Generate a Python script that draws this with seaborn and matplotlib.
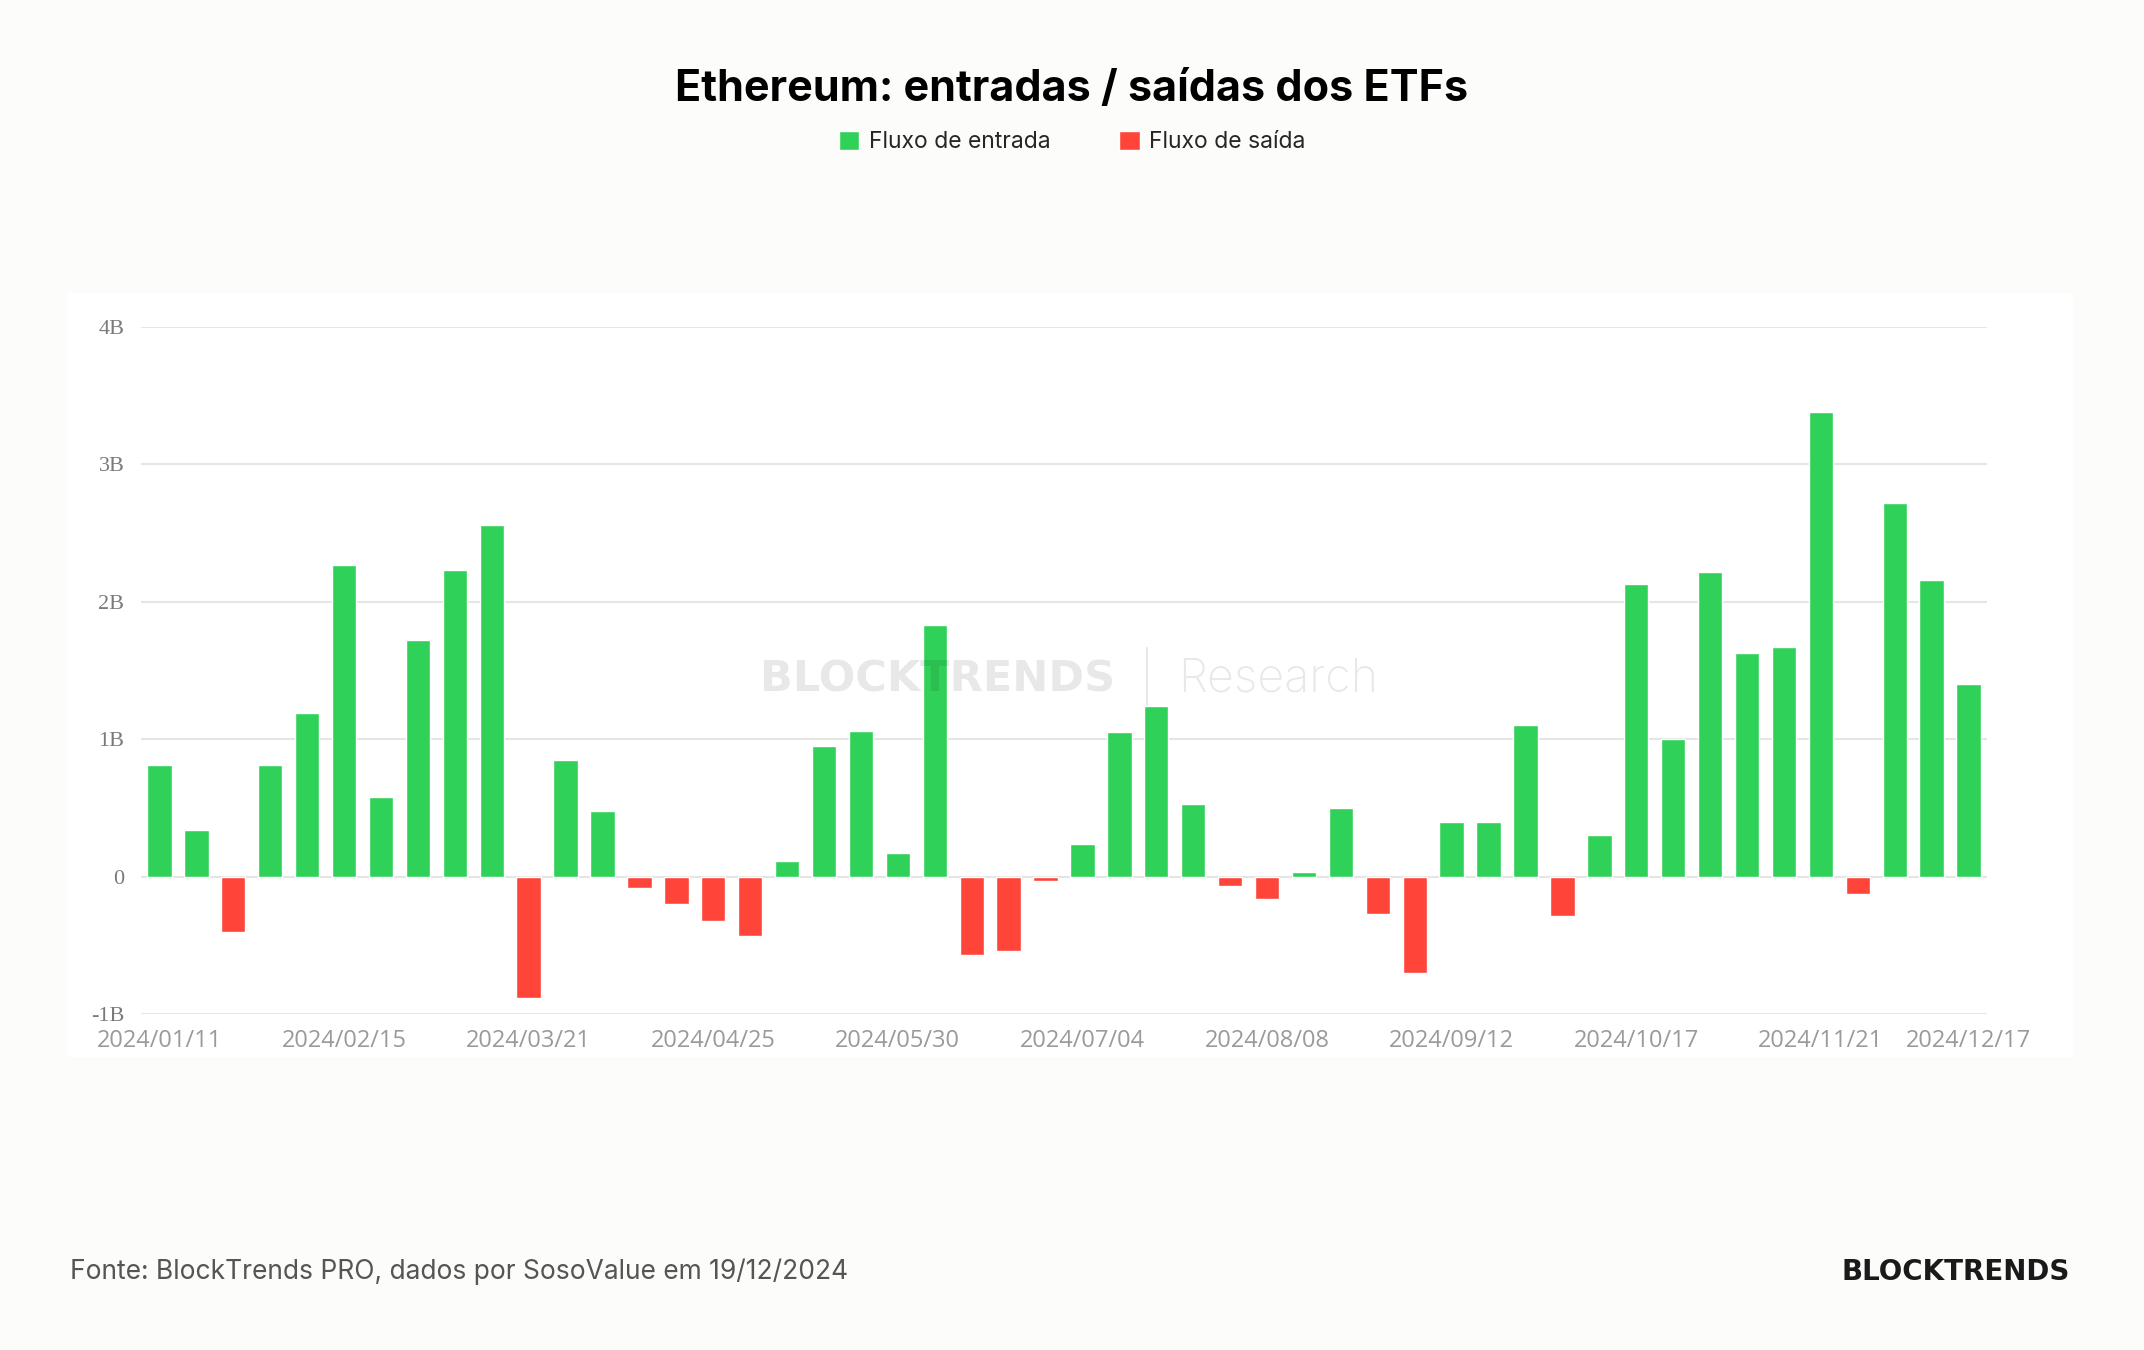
import matplotlib.pyplot as plt
import pandas as pd
import seaborn as sns
from matplotlib.lines import Line2D
from matplotlib.patches import Patch, Rectangle

# fluxo semanal dos ETFs de Ethereum (bilhões de USD)
datas = [
    "2024/01/11", "2024/01/18", "2024/01/25", "2024/02/01", "2024/02/08",
    "2024/02/15", "2024/02/22", "2024/02/29", "2024/03/07", "2024/03/14",
    "2024/03/21", "2024/03/28", "2024/04/04", "2024/04/11", "2024/04/18",
    "2024/04/25", "2024/05/02", "2024/05/09", "2024/05/16", "2024/05/23",
    "2024/05/30", "2024/06/06", "2024/06/13", "2024/06/20", "2024/06/27",
    "2024/07/04", "2024/07/11", "2024/07/18", "2024/07/25", "2024/08/01",
    "2024/08/08", "2024/08/15", "2024/08/22", "2024/08/29", "2024/09/05",
    "2024/09/12", "2024/09/19", "2024/09/26", "2024/10/03", "2024/10/10",
    "2024/10/17", "2024/10/24", "2024/10/31", "2024/11/07", "2024/11/14",
    "2024/11/21", "2024/11/28", "2024/12/05", "2024/12/12", "2024/12/17",
]
fluxo = [
    0.81, 0.34, -0.40, 0.81, 1.19, 2.27, 0.58, 1.72, 2.23, 2.56,
    -0.88, 0.85, 0.48, -0.08, -0.20, -0.32, -0.43, 0.11, 0.95, 1.06,
    0.17, 1.83, -0.57, -0.54, -0.03, 0.24, 1.05, 1.24, 0.53, -0.07,
    -0.16, 0.03, 0.50, -0.27, -0.70, 0.40, 0.40, 1.10, -0.29, 0.30,
    2.13, 1.00, 2.22, 1.63, 1.67, 3.38, -0.13, 2.72, 2.16, 1.40,
]
rotulos_x = [
    "2024/01/11", "2024/02/15", "2024/03/21", "2024/04/25", "2024/05/30",
    "2024/07/04", "2024/08/08", "2024/09/12", "2024/10/17", "2024/11/21",
    "2024/12/17",
]
ticks_y = [-1, 0, 1, 2, 3, 4]
rotulos_y = ["-1B", "0", "1B", "2B", "3B", "4B"]

VERDE = "#30D158"
VERMELHO = "#FF453A"

df = pd.DataFrame({"data": datas, "fluxo": fluxo})
df["tipo"] = ["Fluxo de entrada" if v >= 0 else "Fluxo de saída" for v in df["fluxo"]]

sns.set_style("white")
plt.rcParams["font.family"] = ["Inter", "DejaVu Sans"]

W, H = 2144, 1350
fig = plt.figure(figsize=(W / 100, H / 100), dpi=100, facecolor="#FCFCFA")

# painel branco do gráfico
fig.add_artist(
    Rectangle((68 / W, 1 - 1057 / H), (2073 - 68) / W, (1057 - 293) / H,
              transform=fig.transFigure, facecolor="white", edgecolor="none", zorder=-1)
)

ax = fig.add_axes([141 / W, 1 - 1014 / H, (1987 - 141) / W, (1014 - 327) / H])
ax.set_facecolor("none")

sns.barplot(
    data=df,
    x="data",
    y="fluxo",
    hue="tipo",
    palette={"Fluxo de entrada": VERDE, "Fluxo de saída": VERMELHO},
    dodge=False,
    width=0.66,
    legend=False,
    saturation=1,
    ax=ax,
    zorder=2,
)

ax.set_xlim(-0.5, len(datas) - 0.5)
ax.set_ylim(-1, 4)
ax.set_yticks(ticks_y)
ax.set_yticklabels(rotulos_y, family="Liberation Serif", fontsize=16, color="#7a7a7a")
ax.set_xticks([datas.index(d) for d in rotulos_x])
ax.set_xticklabels(rotulos_x, family="Open Sans", fontsize=17, color="#9a9a9a")
ax.tick_params(axis="both", length=0)
ax.tick_params(axis="y", pad=12)
ax.tick_params(axis="x", pad=11)
ax.grid(axis="y", color="#e6e6e6", linewidth=1.5, zorder=0)
ax.set_axisbelow(True)
ax.set_xlabel("")
ax.set_ylabel("")
sns.despine(ax=ax, left=True, bottom=True)

# título e legenda
fig.text(0.5, 1 - 90 / H, "Ethereum: entradas / saídas dos ETFs",
         ha="center", va="center", fontsize=31, fontweight="bold", color="black")
handles = [
    Patch(facecolor=VERDE, label="Fluxo de entrada"),
    Patch(facecolor=VERMELHO, label="Fluxo de saída"),
]
fig.legend(
    handles=handles,
    loc="center",
    bbox_to_anchor=(0.5, 1 - 142 / H),
    ncol=2,
    frameon=False,
    fontsize=16.5,
    handlelength=0.9,
    handleheight=0.9,
    handletextpad=0.4,
    columnspacing=3.0,
)

# marca d'água
fig.text(1115 / W, 1 - 679 / H, "BLOCKTRENDS", ha="right", va="center",
         family="DejaVu Sans", fontsize=31, fontweight="bold", color="black", alpha=0.09)
fig.text(1178 / W, 1 - 679 / H, "Research", ha="left", va="center",
         fontsize=33.5, fontweight="light", color="black", alpha=0.09)
fig.add_artist(Line2D([1147 / W, 1147 / W], [1 - 648 / H, 1 - 705 / H],
                      transform=fig.transFigure, color="black", alpha=0.09, linewidth=1.5))

# rodapé
fig.text(70 / W, 1 - 1272 / H, "Fonte: BlockTrends PRO, dados por SosoValue em 19/12/2024",
         ha="left", va="center", fontsize=19, color="#555555")
fig.text(2070 / W, 1 - 1272 / H, "BLOCKTRENDS", ha="right", va="center",
         family="DejaVu Sans", fontsize=20, fontweight="bold", color="#1a1a1a")

fig.savefig("out.png", dpi=100, facecolor=fig.get_facecolor())
